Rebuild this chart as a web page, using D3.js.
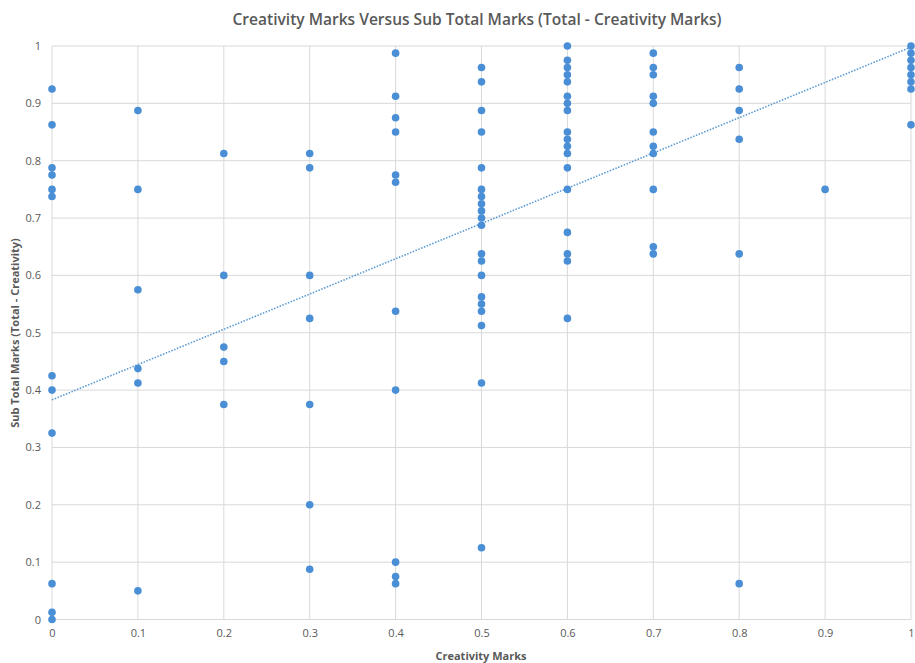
<!DOCTYPE html>
<html><head><meta charset="utf-8">
<script src="https://cdn.jsdelivr.net/npm/d3@7"></script>
<style>body{margin:0;background:#fff}svg{display:block}</style>
</head><body><svg id="c" width="915" height="663"></svg>
<script>
const creativity = [
  0,0,0,0,0,0,0,0,0,0,0,0,
  0.1,0.1,0.1,0.1,0.1,0.1,
  0.2,0.2,0.2,0.2,0.2,
  0.3,0.3,0.3,0.3,0.3,0.3,0.3,
  0.4,0.4,0.4,0.4,0.4,0.4,0.4,0.4,0.4,0.4,0.4,
  0.5,0.5,0.5,0.5,0.5,0.5,0.5,0.5,0.5,0.5,0.5,0.5,0.5,0.5,0.5,0.5,0.5,0.5,0.5,0.5,
  0.6,0.6,0.6,0.6,0.6,0.6,0.6,0.6,0.6,0.6,0.6,0.6,0.6,0.6,0.6,0.6,0.6,0.6,
  0.7,0.7,0.7,0.7,0.7,0.7,0.7,0.7,0.7,0.7,0.7,
  0.8,0.8,0.8,0.8,0.8,0.8,
  0.9,
  1,1,1,1,1,1,1,1
];
const subTotal = [
  0.925,0.8625,0.7875,0.775,0.75,0.7375,0.425,0.4,0.325,0.0625,0.0125,0,
  0.8875,0.75,0.575,0.4375,0.4125,0.05,
  0.8125,0.6,0.475,0.45,0.375,
  0.8125,0.7875,0.6,0.525,0.375,0.2,0.0875,
  0.9875,0.9125,0.875,0.85,0.775,0.7625,0.5375,0.4,0.1,0.075,0.0625,
  0.9625,0.9375,0.8875,0.85,0.7875,0.75,0.7375,0.725,0.7125,0.7,0.6875,0.6375,0.625,0.6,0.5625,0.55,0.5375,0.5125,0.4125,0.125,
  1,0.975,0.9625,0.95,0.9375,0.9125,0.9,0.8875,0.85,0.8375,0.825,0.8125,0.7875,0.75,0.675,0.6375,0.625,0.525,
  0.9875,0.9625,0.95,0.9125,0.9,0.85,0.825,0.8125,0.75,0.65,0.6375,
  0.9625,0.925,0.8875,0.8375,0.6375,0.0625,
  0.75,
  1,0.9875,0.975,0.9625,0.95,0.9375,0.925,0.8625
];
// linear trendline as shown in the chart
const trendX = [0, 1];
const trendY = [0.383, 0.998];
const xTicks = [0,0.1,0.2,0.3,0.4,0.5,0.6,0.7,0.8,0.9,1];
const yTicks = [0,0.1,0.2,0.3,0.4,0.5,0.6,0.7,0.8,0.9,1];
const titleText = "Creativity Marks Versus Sub Total Marks (Total - Creativity Marks)";
const xTitle = "Creativity Marks";
const yTitle = "Sub Total Marks (Total - Creativity)";

const svg = d3.select("#c");
const L = 52, R = 911, T = 46, B = 619.5;
const x = d3.scaleLinear().domain([0,1]).range([L,R]);
const y = d3.scaleLinear().domain([0,1]).range([B,T]);
const font = "'Open Sans', 'Liberation Sans', sans-serif";
const gridColor = "#d9d9d9", labelColor = "#595959", blue = "#4a8fd6";

// gridlines
svg.append("g").selectAll("line.h").data(yTicks).join("line")
  .attr("x1",L).attr("x2",R).attr("y1",d=>y(d)).attr("y2",d=>y(d))
  .attr("stroke",gridColor).attr("stroke-width",1);
svg.append("g").selectAll("line.v").data(xTicks).join("line")
  .attr("y1",T).attr("y2",B).attr("x1",d=>x(d)).attr("x2",d=>x(d))
  .attr("stroke",gridColor).attr("stroke-width",1);

// axes
const xAxis = svg.append("g").attr("transform",`translate(0,${B})`)
  .call(d3.axisBottom(x).tickValues(xTicks).tickSize(0).tickPadding(10).tickFormat(d3.format("~g")));
const yAxis = svg.append("g").attr("transform",`translate(${L},0)`)
  .call(d3.axisLeft(y).tickValues(yTicks).tickSize(0).tickPadding(11).tickFormat(d3.format("~g")));
[xAxis,yAxis].forEach(a=>{
  a.select(".domain").remove();
  a.selectAll("text").attr("fill",labelColor).attr("font-size",11).attr("font-family",font);
});

// trendline
svg.append("path")
  .attr("d", d3.line().x(d=>x(d[0])).y(d=>y(d[1]))(d3.zip(trendX, trendY)))
  .attr("fill","none")
  .attr("stroke","#5b9bd5").attr("stroke-width",1.6).attr("stroke-dasharray","1.5,1.5");

// points
const n = creativity.length;
svg.append("g").selectAll("circle").data(d3.range(n)).join("circle")
  .attr("cx",i=>x(creativity[i])).attr("cy",i=>y(subTotal[i])).attr("r",3.8)
  .attr("fill",blue);

// titles
svg.append("text").attr("x",477).attr("y",25).attr("text-anchor","middle")
  .attr("font-family",font).attr("font-weight",600).attr("font-size",15.5)
  .attr("fill",labelColor).attr("textLength",489).attr("lengthAdjust","spacingAndGlyphs")
  .text(titleText);
svg.append("text").attr("x",481).attr("y",660).attr("text-anchor","middle")
  .attr("font-family",font).attr("font-weight",700).attr("font-size",11)
  .attr("fill",labelColor).text(xTitle);
svg.append("text").attr("transform","translate(19,333) rotate(-90)").attr("text-anchor","middle")
  .attr("font-family",font).attr("font-weight",700).attr("font-size",11)
  .attr("fill",labelColor).text(yTitle);
</script></body></html>
